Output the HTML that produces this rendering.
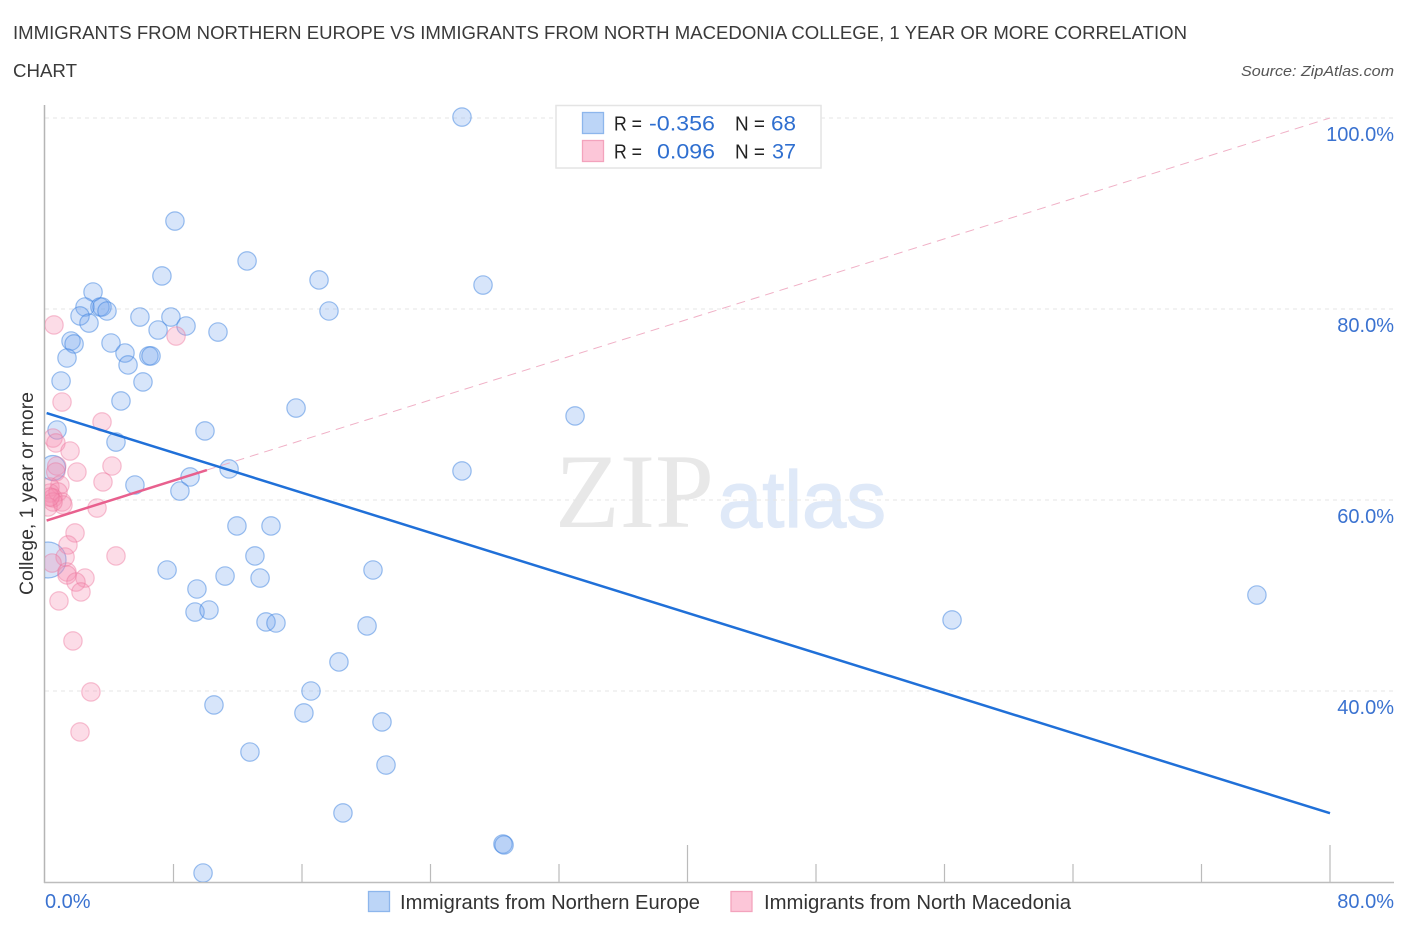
<!DOCTYPE html>
<html lang="en">
<head>
<meta charset="utf-8">
<title>Immigrants from Northern Europe vs Immigrants from North Macedonia College Correlation Chart</title>
<style>
html,body{margin:0;padding:0;background:#fff;width:1406px;height:930px;overflow:hidden}
svg{display:block}
text{font-family:"Liberation Sans",sans-serif}
</style>
</head>
<body>
<svg id="chart" xmlns="http://www.w3.org/2000/svg" width="1406" height="930" viewBox="0 0 1406 930">
  <defs>
    <clipPath id="plot-clip"><rect x="45" y="100" width="1349" height="782"/></clipPath>
  </defs>
  <text x="13" y="39" font-size="18.5" fill="#3a3a3a" textLength="1174" lengthAdjust="spacingAndGlyphs">IMMIGRANTS FROM NORTHERN EUROPE VS IMMIGRANTS FROM NORTH MACEDONIA COLLEGE, 1 YEAR OR MORE CORRELATION</text>
  <text x="13" y="77" font-size="18.5" fill="#3a3a3a" textLength="64" lengthAdjust="spacingAndGlyphs">CHART</text>
  <text x="1241" y="76" font-size="15" font-style="italic" fill="#555" textLength="153" lengthAdjust="spacingAndGlyphs">Source: ZipAtlas.com</text>

  <g>
    <text x="555" y="527" font-size="106" fill="#e8e8e8" textLength="159" lengthAdjust="spacingAndGlyphs" style="font-family:'Liberation Serif',serif">ZIP</text>
    <text x="718" y="527" font-size="80" fill="#dfe9f8" stroke="#dfe9f8" stroke-width="1.2" textLength="168" lengthAdjust="spacingAndGlyphs">atlas</text>
  </g>

  <g id="grid"></g>
  <g id="axes"></g>
  <g id="points" clip-path="url(#plot-clip)"></g>
  <g id="trends"></g>
  <g id="labels"></g>

  <text transform="translate(33,595) rotate(-90)" font-size="19" fill="#333" textLength="203" lengthAdjust="spacingAndGlyphs">College, 1 year or more</text>

  <g>
    <rect x="556" y="105.500" width="265" height="62.500" fill="#fff" stroke="#e4e4e4" stroke-width="1.500"/>
    <rect x="582.500" y="112.500" width="21" height="21" fill="#bcd5f7" stroke="#8db6ec" stroke-width="1.300"/>
    <rect x="582.500" y="140.500" width="21" height="21" fill="#fcc6d8" stroke="#f3a3bd" stroke-width="1.300"/>
    <text x="614" y="130.500" font-size="20" fill="#222" textLength="28" lengthAdjust="spacingAndGlyphs">R =</text>
    <text x="649" y="130.500" font-size="21" fill="#2f6fd0" textLength="66" lengthAdjust="spacingAndGlyphs">-0.356</text>
    <text x="735" y="130.500" font-size="20" fill="#222" textLength="30" lengthAdjust="spacingAndGlyphs">N =</text>
    <text x="771" y="130.500" font-size="21" fill="#2f6fd0" textLength="25" lengthAdjust="spacingAndGlyphs">68</text>
    <text x="614" y="158.500" font-size="20" fill="#222" textLength="28" lengthAdjust="spacingAndGlyphs">R =</text>
    <text x="657" y="158.500" font-size="21" fill="#2f6fd0" textLength="58" lengthAdjust="spacingAndGlyphs">0.096</text>
    <text x="735" y="158.500" font-size="20" fill="#222" textLength="30" lengthAdjust="spacingAndGlyphs">N =</text>
    <text x="772" y="158.500" font-size="21" fill="#2f6fd0" textLength="24" lengthAdjust="spacingAndGlyphs">37</text>
  </g>

  <g>
    <g>
      <rect x="368.500" y="891.500" width="21" height="20" fill="#bcd5f7" stroke="#8db6ec" stroke-width="1.300"/>
      <text x="400" y="909" font-size="20" fill="#333" textLength="300" lengthAdjust="spacingAndGlyphs">Immigrants from Northern Europe</text>
    </g>
    <g>
      <rect x="731" y="891.500" width="21" height="20" fill="#fcc6d8" stroke="#f3a3bd" stroke-width="1.300"/>
      <text x="764" y="909" font-size="20" fill="#333" textLength="307" lengthAdjust="spacingAndGlyphs">Immigrants from North Macedonia</text>
    </g>
  </g>
</svg>
<script>
// ---- chart data (values in percent) ----
const xTicks = [0, 8, 16, 24, 32, 40, 48, 56, 64, 72, 80];
const xMajorTicks = [40, 80];
const yGridTicks = [100, 80, 60, 40];
const yTickLabels = ["100.0%", "80.0%", "60.0%", "40.0%"];
const xEndLabels = ["0.0%", "80.0%"];

const blueX = [25.96,8.09,12.58,7.28,17.06,27.27,2.99,2.49,3.42,3.55,3.86,2.18,2.74,5.91,7.84,17.68,7.04,8.78,10.77,1.62,1.81,4.11,4.98,1.37,6.47,6.60,5.17,1.00,6.10,4.73,15.63,33.00,0.75,9.96,4.42,11.46,25.96,0.50,9.03,5.60,8.40,11.95,14.07,13.07,0.19,7.60,20.42,11.21,13.39,9.46,9.34,10.21,75.45,56.47,13.76,14.38,20.05,18.30,16.56,10.52,16.12,20.98,12.76,21.23,18.55,28.51,28.58,9.84];
const blueY = [100.10,89.21,85.03,83.46,83.04,82.51,81.78,80.21,80.21,80.21,79.79,79.27,78.53,79.16,79.16,79.79,77.80,78.22,77.59,76.65,76.34,76.44,75.39,74.87,75.08,75.08,74.14,72.46,72.36,70.37,69.63,68.80,67.33,67.23,66.07,63.25,63.04,63.35,62.41,61.57,60.94,57.28,57.28,54.14,53.72,52.67,52.67,52.04,51.83,50.68,48.27,48.48,50.05,47.44,47.23,47.12,46.81,43.04,40.00,38.54,37.70,36.76,33.61,32.25,27.23,23.98,23.88,20.94];
const blueWeights = [1,1,1,1,1,1,1,1,1,1,1,1,1,1,1,1,1,1,1,1,1,1,1,1,1,1,1,1,1,1,1,1,1,1,1,1,1,2,1,1,1,1,1,1,4,1,1,1,1,1,1,1,1,1,1,1,1,1,1,1,1,1,1,1,1,1,1,1];

const pinkX = [0.56,8.16,1.06,3.55,0.50,0.68,1.56,4.17,1.99,3.61,3.24,1.87,1.43,1.25,4.42,0.44,1.37,1.37,2.49,1.93,2.24,0.87,1.74,2.86,2.18,0.73,0.67,0.93,0.31,0.31,0.81,0.50,1.06,1.12,0.19,0.50,0.31];
const pinkY = [78.33,77.17,70.26,68.17,66.49,65.97,65.13,63.56,62.93,61.89,59.16,56.55,55.29,54.03,54.14,53.40,52.46,52.15,51.83,51.41,50.37,49.43,45.24,39.90,35.71,63.56,62.93,61.57,61.36,60.73,60.84,60.21,59.79,59.48,59.27,59.79,60.31];

const blueTrendX = [0.1, 80];
const blueTrendY = [69.1, 27.2];
const pinkTrendX = [0.1, 10.08];
const pinkTrendY = [57.85, 63.14];
const pinkExtensionX = [10.08, 80];
const pinkExtensionY = [63.14, 100];

// ---- axis functions ----
const sx = v => 45 + v * 1285 / 80;
const sy = v => 118 + (100 - v) * 9.55;
const radiusFor = w => w === 1 ? 9.2 : w === 2 ? 12.5 : 18;

const NS = 'http://www.w3.org/2000/svg';
function mk(tag, parent, attrs) {
  const el = document.createElementNS(NS, tag);
  for (const k in attrs) el.setAttribute(k, attrs[k]);
  parent.appendChild(el);
  return el;
}
const grid = document.getElementById('grid');
const axes = document.getElementById('axes');
const points = document.getElementById('points');
const trends = document.getElementById('trends');
const labels = document.getElementById('labels');

yGridTicks.forEach(function (v) {
  const g = mk('line', grid, {x1: 45, x2: 1394, y1: sy(v), y2: sy(v), stroke: '#e6e6e6', 'stroke-width': 1, 'stroke-dasharray': '4 4'});
  
  
});

const yAxis = mk('line', axes, {x1: 44.5, x2: 44.5, y1: 105, y2: 883, stroke: '#b5b5b5', 'stroke-width': 1.5});


const xAxis = mk('line', axes, {x1: 44, x2: 1394, y1: 882.5, y2: 882.5, stroke: '#bdbdbd', 'stroke-width': 1.5});



xTicks.forEach(function (v) {
  if (v === 0) return;
  const top = xMajorTicks.includes(v) ? 845 : 864;
  const t = mk('line', axes, {x1: sx(v), x2: sx(v), y1: top, y2: 882, stroke: '#bbbbbb', 'stroke-width': 1.2});
  
  
});

blueX.forEach(function (v, i) {
  const c = mk('circle', points, {cx: sx(v), cy: sy(blueY[i]), r: radiusFor(blueWeights[i]), fill: '#6ea3ec', 'fill-opacity': 0.28, stroke: '#3c82e0', 'stroke-opacity': 0.5, 'stroke-width': 1.2});
  
  
});
pinkX.forEach(function (v, i) {
  const c = mk('circle', points, {cx: sx(v), cy: sy(pinkY[i]), r: 9.2, fill: '#f58cae', 'fill-opacity': 0.3, stroke: '#ec6f98', 'stroke-opacity': 0.42, 'stroke-width': 1.2});
  
  
});

const ext = mk('line', trends, {x1: sx(pinkExtensionX[0]), y1: sy(pinkExtensionY[0]), x2: sx(pinkExtensionX[1]), y2: sy(pinkExtensionY[1]), stroke: '#f0b0c6', 'stroke-width': 1, 'stroke-dasharray': '9 6'});


const blueLine = mk('line', trends, {x1: sx(blueTrendX[0]), y1: sy(blueTrendY[0]), x2: sx(blueTrendX[1]), y2: sy(blueTrendY[1]), stroke: '#2070d8', 'stroke-width': 2.5});


const pinkLine = mk('line', trends, {x1: sx(pinkTrendX[0]), y1: sy(pinkTrendY[0]), x2: sx(pinkTrendX[1]), y2: sy(pinkTrendY[1]), stroke: '#e8608e', 'stroke-width': 2.5});



yTickLabels.forEach(function (s, i) {
  const t = mk('text', labels, {x: 1394, y: sy(yGridTicks[i]) + 23, 'font-size': 20, fill: '#3a72d0', 'text-anchor': 'end'});
  t.textContent = s;
  
  
});
const x0 = mk('text', labels, {x: 45, y: 908, 'font-size': 20, fill: '#3a72d0'});
x0.textContent = xEndLabels[0];


const x1 = mk('text', labels, {x: 1394, y: 908, 'font-size': 20, fill: '#3a72d0', 'text-anchor': 'end'});
x1.textContent = xEndLabels[1];


</script>
</body>
</html>
